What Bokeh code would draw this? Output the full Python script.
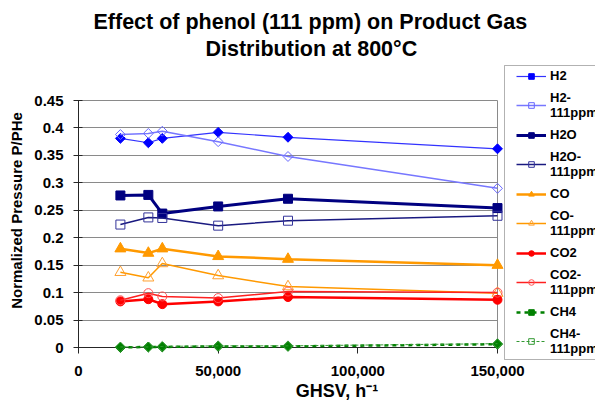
from bokeh.plotting import figure
from bokeh.models import (Range1d, FixedTicker, Legend, LegendItem, Grid,
                          BoxAnnotation, Title)
from bokeh.embed import file_html
from bokeh.resources import INLINE

# ---- data ----
ghsv = [15000, 25000, 30000, 50000, 75000, 150000]
h2 = [0.381, 0.373, 0.381, 0.392, 0.383, 0.362]
h2_111 = [0.388, 0.390, 0.394, 0.375, 0.348, 0.290]
h2o = [0.277, 0.278, 0.244, 0.257, 0.271, 0.254]
h2o_111 = [0.224, 0.237, 0.236, 0.222, 0.231, 0.240]
co = [0.180, 0.172, 0.180, 0.166, 0.161, 0.150]
co_111 = [0.137, 0.127, 0.153, 0.131, 0.111, 0.099]
co2 = [0.084, 0.088, 0.079, 0.084, 0.092, 0.087]
co2_111 = [0.086, 0.099, 0.093, 0.090, 0.102, 0.100]
ch4 = [0.000, 0.001, 0.001, 0.002, 0.002, 0.006]
ch4_111 = [0.001, 0.001, 0.002, 0.003, 0.003, 0.007]

series_names = ["H2", "H2-\n111ppm", "H2O", "H2O-\n111ppm", "CO", "CO-\n111ppm",
                "CO2", "CO2-\n111ppm", "CH4", "CH4-\n111ppm"]

y_ticks = [0, 0.05, 0.1, 0.15, 0.2, 0.25, 0.3, 0.35, 0.4, 0.45]
y_tick_labels = ["0", "0.05", "0.1", "0.15", "0.2", "0.25", "0.3", "0.35", "0.4", "0.45"]
x_ticks = [0, 50000, 100000, 150000]
x_tick_labels = ["0", "50,000", "100,000", "150,000"]

title_lines = ["Effect of phenol (111 ppm) on Product Gas", "Distribution at 800°C"]
x_title = "GHSV, h⁻¹"
y_title = "Normalized Pressure P/PHe"

FONT = "Liberation Sans"
X_MIN, X_MAX = x_ticks[0], x_ticks[-1]
Y_MIN, Y_MAX = y_ticks[0], y_ticks[-1]

# frame: left 78, right 595, top 60, bottom 360 ; data 0..150000 -> 78..497, 0..0.45 -> 347..100
p = figure(width=595, height=404, output_backend="svg", toolbar_location=None, title=None,
           x_range=Range1d(0, 185084), y_range=Range1d(-0.02368, 0.52288),
           min_border_left=78, min_border_right=0, min_border_top=60,
           min_border_bottom=44)
p.outline_line_color = None
p.background_fill_color = "white"
p.border_fill_color = "white"
p.xgrid.visible = False
p.ygrid.visible = False

GRID = "#8a8a8a"
DARK = "#262626"

def add_grid(dim, ticks, bounds, color, width=1):
    g = Grid(dimension=dim, ticker=FixedTicker(ticks=ticks), grid_line_color=color,
             grid_line_width=width)
    g.cross_bounds = bounds
    p.add_layout(g)

add_grid(1, y_ticks[1:], (X_MIN, X_MAX), GRID)            # horizontal gridlines
add_grid(0, [X_MAX], (Y_MIN, Y_MAX), GRID)                # right border of plot area
add_grid(1, [Y_MIN], (X_MIN, X_MAX), DARK)                # x axis line
add_grid(0, x_ticks, (-0.0105, Y_MIN), DARK)              # x tick marks

xa = p.xaxis[0]
ya = p.yaxis[0]
xa.ticker = FixedTicker(ticks=x_ticks)
ya.ticker = FixedTicker(ticks=y_ticks)
xa.major_label_overrides = {t: l for t, l in zip(x_ticks, x_tick_labels)}
ya.major_label_overrides = {t: l for t, l in zip(y_ticks, y_tick_labels)}
xa.bounds = (X_MIN, X_MAX)
ya.bounds = (-0.0105, Y_MAX)
for ax in (xa, ya):
    ax.minor_tick_line_color = None
    ax.major_label_text_font = FONT
    ax.major_label_text_font_style = "bold"
    ax.major_label_text_font_size = "15px"
    ax.major_label_text_color = "black"
    ax.axis_label_text_font = FONT
    ax.axis_label_text_font_style = "bold"
    ax.axis_label_text_color = "black"
xa.axis_line_color = None
xa.major_tick_line_color = None
xa.major_tick_in = 0
xa.major_tick_out = 0
xa.major_label_standoff = 5
xa.axis_label = x_title
xa.axis_label_text_font_size = "18px"
xa.axis_label_standoff = 2

ya.axis_line_color = DARK
ya.major_tick_line_color = DARK
ya.major_tick_in = 4
ya.major_tick_out = 5
ya.major_label_standoff = 10
ya.axis_label = y_title
ya.axis_label_text_font_size = "15px"
ya.axis_label_standoff = 6

styles = [
    dict(y=h2, color="#3333ff", lw=1.2, marker="square", ang=0.7854, size=7, mfill="#0000ff", mline="#0000ff", dash="solid"),
    dict(y=h2_111, color="#7777ff", lw=1.5, marker="square", ang=0.7854, size=7, mfill=None, mline="#6666ff", dash="solid"),
    dict(y=h2o, color="#000080", lw=3, marker="square", ang=0, size=9, mfill="#000080", mline="#000080", dash="solid"),
    dict(y=h2o_111, color="#1a1a80", lw=1.5, marker="square", ang=0, size=9, mfill=None, mline="#333399", dash="solid"),
    dict(y=co, color="#ff9900", lw=2.5, marker="triangle", ang=0, size=11, mfill="#ff9900", mline="#ff9900", dash="solid"),
    dict(y=co_111, color="#ff9900", lw=1.5, marker="triangle", ang=0, size=11, mfill=None, mline="#ffa030", dash="solid"),
    dict(y=co2, color="#ff0000", lw=2.5, marker="circle", ang=0, size=9, mfill="#ff0000", mline="#ff0000", dash="solid"),
    dict(y=co2_111, color="#ff2020", lw=1.5, marker="circle", ang=0, size=9, mfill=None, mline="#ff5050", dash="solid"),
    dict(y=ch4, color="#008000", lw=2.5, marker="square", ang=0.7854, size=7, mfill="#008000", mline="#008000", dash="4 4"),
    dict(y=ch4_111, color="#339933", lw=1, marker="square", ang=0.7854, size=7, mfill=None, mline="#339933", dash="3 2"),
]

items = []
for name, st in zip(series_names, styles):
    lr = p.line(ghsv, st["y"], line_color=st["color"], line_width=st["lw"], line_dash=st["dash"])
    sr = p.scatter(ghsv, st["y"], marker=st["marker"], size=st["size"], angle=st["ang"],
                   fill_color=st["mfill"], line_color=st["mline"], line_width=1)
    items.append(LegendItem(label=name, renderers=[lr, sr]))

legend = Legend(items=items, location=(438, 4), orientation="vertical",
                glyph_width=30, glyph_height=14, label_height=29, label_width=20,
                label_standoff=4, spacing=0, padding=0, margin=0,
                border_line_color=None, background_fill_alpha=0,
                label_text_font=FONT, label_text_font_style="bold",
                label_text_font_size="13px", label_text_line_height=1.1,
                label_text_color="black")
p.add_layout(legend)

# legend frame (frame-relative screen pixels)
p.add_layout(BoxAnnotation(left=426, right=600, top=295, bottom=1,
                           left_units="screen", right_units="screen",
                           top_units="screen", bottom_units="screen",
                           fill_alpha=0, line_color="black", line_width=1))

# two-line title: inner line first, outer line second
p.add_layout(Title(text=title_lines[1], align="left", offset=127, standoff=0,
                   text_font=FONT, text_font_style="bold", text_font_size="21.5px",
                   text_color="black"), "above")
p.add_layout(Title(text=title_lines[0], align="left", offset=15, standoff=1,
                   text_font=FONT, text_font_style="bold", text_font_size="21.5px",
                   text_color="black"), "above")

open("out.html", "w").write(file_html(p, INLINE))
